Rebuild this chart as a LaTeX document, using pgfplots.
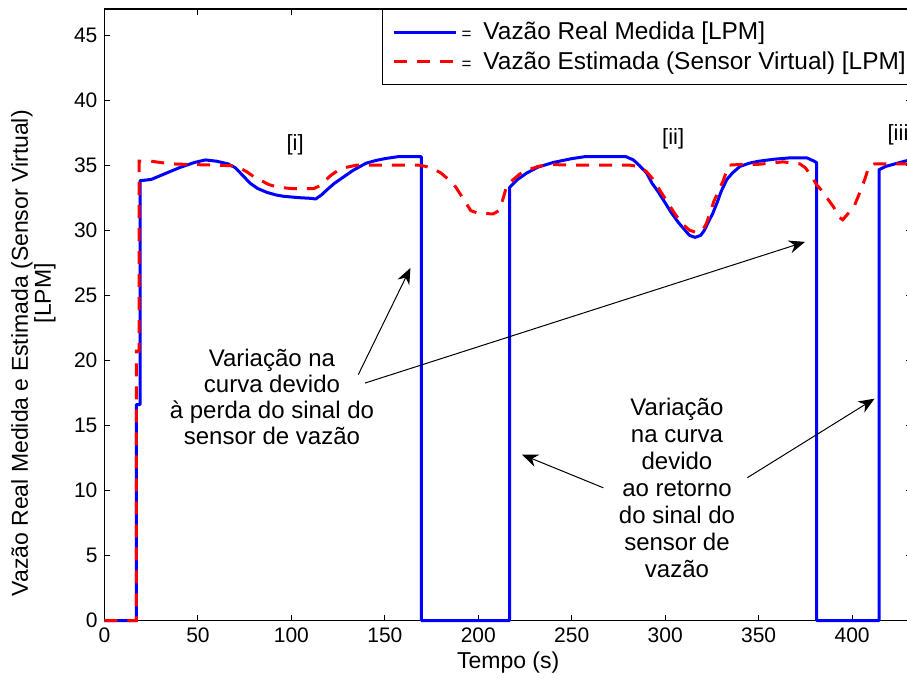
\documentclass[border=0pt]{standalone}
\usepackage{fontspec}
\setmainfont{Liberation Sans}
\usepackage{pgfplots}
\pgfplotsset{compat=1.18}
\usetikzlibrary{arrows.meta}
\begin{document}
\begin{tikzpicture}
\begin{axis}[
 name=ax,
 scale only axis,
 width=403.7pt, height=305.75pt,
 xmin=0, xmax=432, ymin=0, ymax=47,
 clip=false,
 xtick={0,50,...,400}, ytick={0,5,...,45},
 tick align=inside,
 major tick length=3pt,
 tick style={black, line width=0.5pt},
 axis line style={black, line width=0.6pt},
 /pgf/number format/assume math mode=true,
 ticklabel style={font=\fontsize{10.5}{12}\selectfont},
 xlabel={Tempo (s)},
 ylabel={Vazão Real Medida e Estimada (Sensor Virtual)\\\hspace*{60pt}[LPM]},
 label style={font=\fontsize{11.5}{11.5}\selectfont},
 xlabel style={at={(axis description cs:0.5,-0.0695)}, anchor=center},
 ylabel style={at={(axis description cs:-0.088,0.437)}, anchor=center, align=center},
 legend style={at={(axis cs:148.3,47)}, anchor=north west, draw=black, line width=0.5pt, fill=white,
   font=\fontsize{12.2}{14}\selectfont, inner xsep=5pt, inner ysep=4pt, nodes={inner sep=2.2pt}},
 legend cell align=left,
 legend image code/.code={\draw[#1] (0pt,0pt) -- (31pt,0pt);},
]
\addplot[color=blue, line width=1.5pt, line join=round] coordinates {
(0,0) (17,0) (17,16.6) (19,16.6) (19,33.8) (25,33.9) (30,34.2) (40,34.8) (48,35.2) (54,35.4)
(60,35.3) (66,35.1) (70,34.8) (74,34.2) (78,33.6) (82,33.2) (87,32.9) (92,32.7) (96,32.6)
(104,32.5) (110,32.45) (113,32.4) (116,32.7) (119,33.1) (123,33.6) (127,34.0) (133,34.6)
(140,35.15) (145,35.35) (150,35.5) (157,35.65) (169.5,35.65) (169.5,0) (216.8,0) (216.8,33.3)
(221,33.9) (226,34.4) (232,34.85) (240,35.2) (250,35.5) (257,35.65) (279,35.65) (283,35.4)
(286,35.0) (290,34.4) (293,33.6) (296,33.0) (300,32.1) (303,31.4) (307,30.6) (310,30.1)
(313,29.6) (316,29.45) (319,29.6) (321,30.0) (323,30.6) (325.5,31.3) (328,32.2) (330,33.0)
(333,33.9) (336,34.4) (340,34.9) (345,35.15) (350,35.3) (358,35.45) (366,35.55) (376,35.55)
(379,35.35) (381,35.2) (381,0) (414.4,0) (414.4,34.65) (418,34.9) (423,35.1) (432,35.45)
};
\addlegendentry{{\fontsize{8.5}{10}\selectfont=}\hspace{6pt}Vazão Real Medida [LPM]}
\addplot[color=red, line width=1.5pt, dash pattern=on 6.5pt off 5pt] coordinates {
(0,0) (17,0) (17,20.7) (18.5,20.7) (18.5,35.3) (25,35.3) (30,35.2) (35,35.1) (45,35.05)
(60,35.0) (68,34.95) (72,34.8) (76,34.5) (80,34.1) (84,33.8) (88,33.5) (93,33.3) (100,33.2)
(112,33.2) (115,33.4) (118,33.8) (121,34.2) (125,34.6) (130,34.85) (135,35.0) (145,35.0)
(160,35.0) (168,35.0) (172,34.9) (176,34.7) (180,34.4) (184,33.9) (188,33.3) (192,32.4)
(196,31.5) (200,31.3) (208,31.25) (211,31.5) (213,32.3) (215,33.3) (218,33.8) (222,34.3)
(226,34.6) (232,34.9) (238,35.05) (250,35.0) (270,35.0) (281,35.0) (286,34.9) (290,34.5)
(293,34.0) (297,33.1) (301,32.2) (305,31.3) (309,30.5) (313,30.0) (316,29.85) (320,30.0)
(322,30.5) (324,31.3) (326,32.2) (328.5,33.0) (331,33.8) (334,35.0) (340,35.05) (349,35.05)
(356,35.15) (363,35.25) (372,35.1) (375,34.8) (378,34.2) (381,33.5) (384,33.0) (387,32.4)
(390,31.8) (393,31.0) (395,30.8) (398,31.3) (401,31.8) (403,32.5) (405,33.2) (407,34.0)
(409,34.9) (412,35.1) (420,35.1) (432,35.1)
};
\addlegendentry{{\fontsize{8.5}{10}\selectfont=}\hspace{6pt}Vazão Estimada (Sensor Virtual) [LPM]}
\node[font=\fontsize{11}{13}\selectfont] at (axis cs:102,36.6) {[i]};
\node[font=\fontsize{11}{13}\selectfont] at (axis cs:304.3,37) {[ii]};
\node[font=\fontsize{11}{13}\selectfont, anchor=west, inner sep=0pt] at (axis cs:418.8,37.3) {[iii]};
\node[font=\fontsize{12}{13}\selectfont, align=center] at (axis cs:89.6,17.2)
 {Variação na\\curva devido\\à perda do sinal do\\sensor de vazão};
\node[font=\fontsize{12}{13.5}\selectfont, align=center] at (axis cs:306.3,10.2)
 {Variação\\na curva\\devido\\ao retorno\\do sinal do\\sensor de\\vazão};
\draw[line width=0.5pt, -{Stealth[length=8pt,width=6.5pt]}] (axis cs:135.8,18.9) -- (axis cs:163.7,27.1);
\draw[line width=0.5pt, -{Stealth[length=8pt,width=6.5pt]}] (axis cs:139.4,18.25) -- (axis cs:374.8,29.1);
\draw[line width=0.5pt, -{Stealth[length=8pt,width=6.5pt]}] (axis cs:266.9,10.2) -- (axis cs:223.4,12.75);
\draw[line width=0.5pt, -{Stealth[length=8pt,width=6.5pt]}] (axis cs:344,10.98) -- (axis cs:412,17.05);
\end{axis}
\pgfresetboundingbox
\path[use as bounding box] (ax.south west) ++(-52.25pt,-30.75pt) rectangle ++(453.5pt,341pt);
\end{tikzpicture}
\end{document}
